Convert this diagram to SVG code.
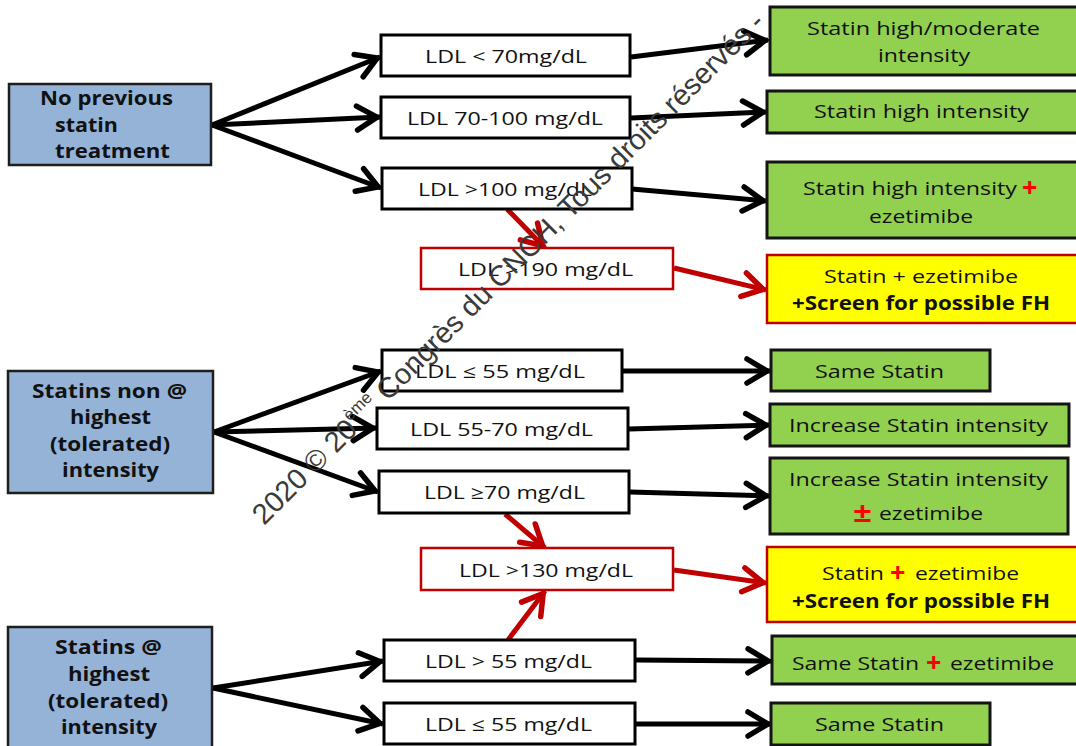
<svg xmlns="http://www.w3.org/2000/svg" width="1076" height="746" viewBox="0 0 1076 746">
<defs>
<style>
.blue{fill:#95b3d7;stroke:#1e1e1e;stroke-width:2.5}
.white{fill:#ffffff;stroke:#000000;stroke-width:3}
.redbox{fill:#ffffff;stroke:#c00000;stroke-width:2.5}
.green{fill:#92d050;stroke:#141414;stroke-width:3}
.yellow{fill:#ffff00;stroke:#c00000;stroke-width:2.5}
text{font-family:"Open Sans","Liberation Sans",sans-serif;fill:#111111}
.b{font-weight:bold;font-size:20px}
.ldl{font-size:18px}
.g{font-size:19px}
.gb{font-size:19px;font-weight:bold}
.plus{fill:#ff0000;font-weight:bold;font-size:27px}
.blk{fill:none;stroke:#000000;stroke-width:5}
.red{fill:none;stroke:#c00000;stroke-width:5}
.wm{font-family:"Liberation Sans",Arial,sans-serif;font-size:29px;fill:#3a3a3a}
</style>
<marker id="ah" markerUnits="userSpaceOnUse" viewBox="0 0 32 28" markerWidth="32" markerHeight="28" refX="27" refY="14" orient="auto" overflow="visible">
<path d="M4,2 L24,14 L4,26" fill="none" stroke="#000000" stroke-width="5.5" stroke-linecap="round"/>
</marker>
<marker id="ahr" markerUnits="userSpaceOnUse" viewBox="0 0 32 28" markerWidth="32" markerHeight="28" refX="27" refY="14" orient="auto" overflow="visible">
<path d="M4,2 L24,14 L4,26" fill="none" stroke="#c00000" stroke-width="5.5" stroke-linecap="round"/>
</marker>
</defs>
<rect width="1076" height="746" fill="#ffffff"/>

<g id="connectors">
<line class="blk" x1="212" y1="125" x2="380" y2="57" marker-end="url(#ah)"/>
<line class="blk" x1="212" y1="125" x2="380" y2="117" marker-end="url(#ah)"/>
<line class="blk" x1="212" y1="125" x2="381" y2="188" marker-end="url(#ah)"/>
<line class="blk" x1="214" y1="432" x2="381" y2="371" marker-end="url(#ah)"/>
<line class="blk" x1="214" y1="432" x2="376" y2="428" marker-end="url(#ah)"/>
<line class="blk" x1="214" y1="432" x2="378" y2="492" marker-end="url(#ah)"/>
<line class="blk" x1="213" y1="688" x2="383" y2="661" marker-end="url(#ah)"/>
<line class="blk" x1="213" y1="688" x2="383" y2="724" marker-end="url(#ah)"/>
<line class="blk" x1="631" y1="57" x2="768" y2="40" marker-end="url(#ah)"/>
<line class="blk" x1="631" y1="118" x2="766" y2="112" marker-end="url(#ah)"/>
<line class="blk" x1="632" y1="189" x2="766" y2="201" marker-end="url(#ah)"/>
<line class="red" x1="674" y1="268" x2="766" y2="290" marker-end="url(#ahr)"/>
<line class="blk" x1="623" y1="371" x2="770" y2="371" marker-end="url(#ah)"/>
<line class="blk" x1="629" y1="429" x2="769" y2="425" marker-end="url(#ah)"/>
<line class="blk" x1="630" y1="492" x2="769" y2="496" marker-end="url(#ah)"/>
<line class="red" x1="674" y1="570" x2="766" y2="583" marker-end="url(#ahr)"/>
<line class="blk" x1="636" y1="660" x2="771" y2="661" marker-end="url(#ah)"/>
<line class="blk" x1="636" y1="724" x2="771" y2="724" marker-end="url(#ah)"/>
<line class="red" x1="507" y1="209" x2="545" y2="248" marker-end="url(#ahr)"/>
<line class="red" x1="505" y1="514" x2="545" y2="548" marker-end="url(#ahr)"/>
<line class="red" x1="508" y1="640" x2="545" y2="591" marker-end="url(#ahr)"/>
</g>

<g id="n_noprev">
<rect class="blue" x="9" y="84" width="202" height="81"/>
<text class="b" x="40" y="105" textLength="133" lengthAdjust="spacingAndGlyphs">No previous</text>
<text class="b" x="55" y="132" textLength="63" lengthAdjust="spacingAndGlyphs">statin</text>
<text class="b" x="55" y="158" textLength="115" lengthAdjust="spacingAndGlyphs">treatment</text>
</g>
<g id="n_nonhighest">
<rect class="blue" x="8" y="371" width="205" height="122"/>
<text class="b" x="32" y="398" textLength="155" lengthAdjust="spacingAndGlyphs">Statins non @</text>
<text class="b" x="70" y="424" textLength="81" lengthAdjust="spacingAndGlyphs">highest</text>
<text class="b" x="50" y="451" textLength="120" lengthAdjust="spacingAndGlyphs">(tolerated)</text>
<text class="b" x="62" y="477" textLength="97" lengthAdjust="spacingAndGlyphs">intensity</text>
</g>
<g id="n_highest">
<rect class="blue" x="8" y="627" width="204" height="125"/>
<text class="b" x="55" y="654" textLength="107" lengthAdjust="spacingAndGlyphs">Statins @</text>
<text class="b" x="68" y="681" textLength="82" lengthAdjust="spacingAndGlyphs">highest</text>
<text class="b" x="48" y="708" textLength="120" lengthAdjust="spacingAndGlyphs">(tolerated)</text>
<text class="b" x="61" y="734" textLength="96" lengthAdjust="spacingAndGlyphs">intensity</text>
</g>

<g id="n_ldl70">
<rect class="white" x="381" y="35" width="249" height="41"/>
<text class="ldl" x="425" y="63" textLength="162" lengthAdjust="spacingAndGlyphs">LDL &lt; 70mg/dL</text>
</g>
<g id="n_ldl70100">
<rect class="white" x="381" y="97" width="249" height="41"/>
<text class="ldl" x="407" y="125" textLength="196" lengthAdjust="spacingAndGlyphs">LDL 70-100 mg/dL</text>
</g>
<g id="n_ldl100">
<rect class="white" x="382" y="168" width="250" height="41"/>
<text class="ldl" x="418" y="196" textLength="174" lengthAdjust="spacingAndGlyphs">LDL &gt;100 mg/dL</text>
</g>
<g id="n_ldl190">
<rect class="redbox" x="421" y="248" width="252" height="41"/>
<text class="ldl" x="458" y="276" textLength="175" lengthAdjust="spacingAndGlyphs">LDL &gt;190 mg/dL</text>
</g>
<g id="n_ldl55a">
<rect class="white" x="382" y="350" width="240" height="41"/>
<text class="ldl" x="415" y="378" textLength="170" lengthAdjust="spacingAndGlyphs">LDL ≤ 55 mg/dL</text>
</g>
<g id="n_ldl5570">
<rect class="white" x="377" y="408" width="251" height="41"/>
<text class="ldl" x="410" y="436" textLength="183" lengthAdjust="spacingAndGlyphs">LDL 55-70 mg/dL</text>
</g>
<g id="n_ldlge70">
<rect class="white" x="379" y="471" width="250" height="42"/>
<text class="ldl" x="424" y="499" textLength="161" lengthAdjust="spacingAndGlyphs">LDL ≥70 mg/dL</text>
</g>
<g id="n_ldl130">
<rect class="redbox" x="421" y="548" width="252" height="42"/>
<text class="ldl" x="459" y="577" textLength="174" lengthAdjust="spacingAndGlyphs">LDL &gt;130 mg/dL</text>
</g>
<g id="n_ldlgt55">
<rect class="white" x="384" y="640" width="251" height="41"/>
<text class="ldl" x="425" y="668" textLength="167" lengthAdjust="spacingAndGlyphs">LDL &gt; 55 mg/dL</text>
</g>
<g id="n_ldl55b">
<rect class="white" x="384" y="703" width="251" height="41"/>
<text class="ldl" x="425" y="731" textLength="167" lengthAdjust="spacingAndGlyphs">LDL ≤ 55 mg/dL</text>
</g>

<g id="r_highmod">
<rect class="green" x="770" y="7" width="310" height="68"/>
<text class="g" x="807" y="35" textLength="233" lengthAdjust="spacingAndGlyphs">Statin high/moderate</text>
<text class="g" x="878" y="62" textLength="92" lengthAdjust="spacingAndGlyphs">intensity</text>
</g>
<g id="r_high">
<rect class="green" x="767" y="91" width="313" height="42"/>
<text class="g" x="814" y="118" textLength="215" lengthAdjust="spacingAndGlyphs">Statin high intensity</text>
</g>
<g id="r_higheze">
<rect class="green" x="767" y="162" width="313" height="76"/>
<text class="g" x="803" y="195" textLength="214" lengthAdjust="spacingAndGlyphs">Statin high intensity</text>
<text class="plus" x="1022" y="197">+</text>
<text class="g" x="869" y="223" textLength="104" lengthAdjust="spacingAndGlyphs">ezetimibe</text>
</g>
<g id="r_fh1">
<rect class="yellow" x="767" y="255" width="313" height="68"/>
<text class="g" x="824" y="283" textLength="194" lengthAdjust="spacingAndGlyphs">Statin + ezetimibe</text>
<text class="gb" x="792" y="310" textLength="258" lengthAdjust="spacingAndGlyphs">+Screen for possible FH</text>
</g>
<g id="r_same1">
<rect class="green" x="771" y="350" width="219" height="41"/>
<text class="g" x="815" y="378" textLength="129" lengthAdjust="spacingAndGlyphs">Same Statin</text>
</g>
<g id="r_incr">
<rect class="green" x="770" y="404" width="299" height="42"/>
<text class="g" x="789" y="432" textLength="259" lengthAdjust="spacingAndGlyphs">Increase Statin intensity</text>
</g>
<g id="r_increze">
<rect class="green" x="770" y="458" width="298" height="76"/>
<text class="g" x="789" y="486" textLength="259" lengthAdjust="spacingAndGlyphs">Increase Statin intensity</text>
<text class="plus" x="853" y="522" textLength="19" lengthAdjust="spacingAndGlyphs">±</text>
<text class="g" x="879" y="520" textLength="104" lengthAdjust="spacingAndGlyphs">ezetimibe</text>
</g>
<g id="r_fh2">
<rect class="yellow" x="767" y="547" width="313" height="75"/>
<text class="g" x="822" y="580" textLength="62" lengthAdjust="spacingAndGlyphs">Statin</text>
<text class="plus" x="890" y="582">+</text>
<text class="g" x="915" y="580" textLength="104" lengthAdjust="spacingAndGlyphs">ezetimibe</text>
<text class="gb" x="792" y="608" textLength="258" lengthAdjust="spacingAndGlyphs">+Screen for possible FH</text>
</g>
<g id="r_sameeze">
<rect class="green" x="772" y="636" width="308" height="48"/>
<text class="g" x="792" y="670" textLength="127" lengthAdjust="spacingAndGlyphs">Same Statin</text>
<text class="plus" x="926" y="672">+</text>
<text class="g" x="950" y="670" textLength="104" lengthAdjust="spacingAndGlyphs">ezetimibe</text>
</g>
<g id="r_same2">
<rect class="green" x="771" y="703" width="219" height="42"/>
<text class="g" x="815" y="731" textLength="129" lengthAdjust="spacingAndGlyphs">Same Statin</text>
</g>

<g id="watermark">
<text class="wm" transform="translate(264,526) rotate(-45)">2020 © 20<tspan font-size="17" dy="-13">ème</tspan><tspan dy="13"> Congrès du CNCH, Tous droits réservés -</tspan></text>
</g>
</svg>
